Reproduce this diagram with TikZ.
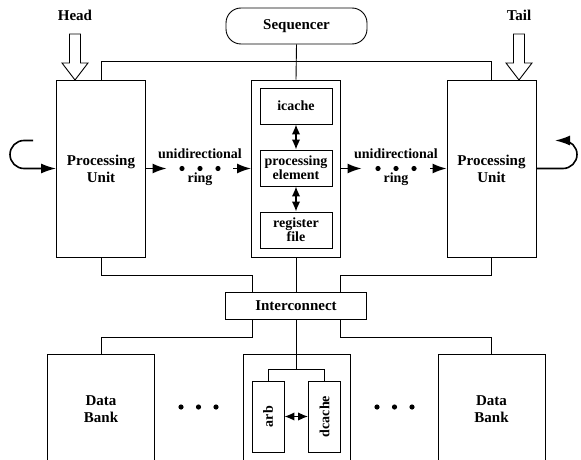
\documentclass[tikz,border=0pt]{standalone}
\usepackage{fontspec}
\setmainfont{Liberation Serif}
\usetikzlibrary{arrows.meta}

\begin{document}
\begin{tikzpicture}[x=1pt, y=-1pt, line width=0.9pt,
    every node/.style={font=\bfseries\fontsize{15}{17}\selectfont, align=center, inner sep=0pt},
    unit/.style={draw, minimum width=89pt, minimum height=177pt},
    inbox/.style={draw, minimum width=72pt, minimum height=36pt, font=\bfseries\fontsize{14}{14}\selectfont},
    bank/.style={draw, minimum width=107pt, minimum height=110pt},
    slim/.style={draw, minimum width=32pt, minimum height=71pt, font=\bfseries\fontsize{14}{14}\selectfont},
    ringtxt/.style={font=\bfseries\fontsize{14}{16}\selectfont},
    ring/.style={line width=1.6pt, -{Latex[length=14pt,width=10pt]}},
    both/.style={line width=1.4pt, {Latex[length=10pt,width=8.5pt]}-{Latex[length=10pt,width=8.5pt]}},
    turn/.style={line width=1.6pt, -{Latex[length=15pt,width=10pt]}}]
    \useasboundingbox (0,0) rectangle (581,460);
    \clip (0,0) rectangle (581,460);

    % processing units and sequencer
    \node[unit] (lpu) at (101,168.5) {Processing\\Unit};
    \node[unit] (rpu) at (491.5,168.5) {Processing\\Unit};
    \node[unit] (pbox) at (296,168.5) {};
    \node[draw, rounded corners=15pt, minimum width=141pt, minimum height=36pt] (seq) at (296.5,26) {Sequencer};

    \node[inbox] (icache) at (296,106) {icache};
    \node[inbox] (pe) at (296,168) {processing\\element};
    \node[inbox] (rf) at (296,230) {register\\file};

    % head and tail
    \node (head) at (75,15) {Head};
    \node (tail) at (519,15) {Tail};
    \foreach \x in {75,519}
        \draw (\x-5.5,34) -- (\x+5.5,34) -- (\x+5.5,63) -- (\x+13,63) -- (\x,80)
              -- (\x-13,63) -- (\x-5.5,63) -- cycle;

    % rings
    \node[minimum width=66pt, minimum height=6pt] (lring) at (200,168.5) {};
    \node[minimum width=68pt, minimum height=6pt] (rring) at (396,168.5) {};
    \foreach \dx in {-18,0,18} {
        \fill ([xshift=\dx pt]lring.center) circle[radius=2.6pt];
        \fill ([xshift=\dx pt]rring.center) circle[radius=2.6pt];
    }
    \node[ringtxt] at ([yshift=15pt]lring.center) {unidirectional};
    \node[ringtxt] at ([yshift=-11pt]lring.center) {ring};
    \node[ringtxt] at ([yshift=15pt]rring.center) {unidirectional};
    \node[ringtxt] at ([yshift=-11pt]rring.center) {ring};

    \draw[ring] (lpu.east) -- (lring.west);
    \draw[ring] (lring.east) -- (pbox.west);
    \draw[ring] (pbox.east) -- (rring.west);
    \draw[ring] (rring.east) -- (rpu.west);

    \coordinate (lloop) at (33,140.5);
    \coordinate (rloop) at (555,140.5);
    \draw[turn] (lloop) -- ++(-9,0) arc[start angle=270, end angle=90, radius=14] -- (lpu.west);
    \draw[turn] (rpu.east) -- (563,168.5) arc[start angle=90, end angle=-90, radius=14] -- (rloop);

    \draw[both] (icache) -- (pe);
    \draw[both] (pe) -- (rf);

    % interconnect and memory
    \node[draw, minimum width=141pt, minimum height=27pt] (ic) at (296,305.5) {Interconnect};
    \node[bank] (ldb) at (101,409) {Data\\Bank};
    \node[bank] (rdb) at (491.5,409) {Data\\Bank};
    \node[bank] (cbot) at (296.5,409) {};
    \node[slim] (arb) at (268,416.5) {\rotatebox{90}{arb}};
    \node[slim] (dcache) at (324.5,416.5) {\rotatebox{90}{dcache}};
    \draw[both] (arb) -- (dcache);

    \foreach \x in {181,198.5,216,377,394.5,412}
        \fill (\x,407) circle[radius=2.6pt];

    % wires
    \draw (lpu.north) -- ++(0,-18) -| (rpu.north);
    \draw (seq.south) -- (pbox.north);
    \draw (lpu.south) -- ++(0,18) -| ([xshift=-44pt]ic.north);
    \draw (pbox.south) -- (ic.north);
    \draw (rpu.south) -- ++(0,18) -| ([xshift=44pt]ic.north);
    \draw ([xshift=-44pt]ic.south) -- ++(0,18) -| (ldb.north);
    \draw ([xshift=44pt]ic.south) -- ++(0,18) -| (rdb.north);
    \draw (ic.south) -- ++(0,49.5) coordinate (split);
    \draw (arb.north) |- (split) -| (dcache.north);
\end{tikzpicture}
\end{document}
